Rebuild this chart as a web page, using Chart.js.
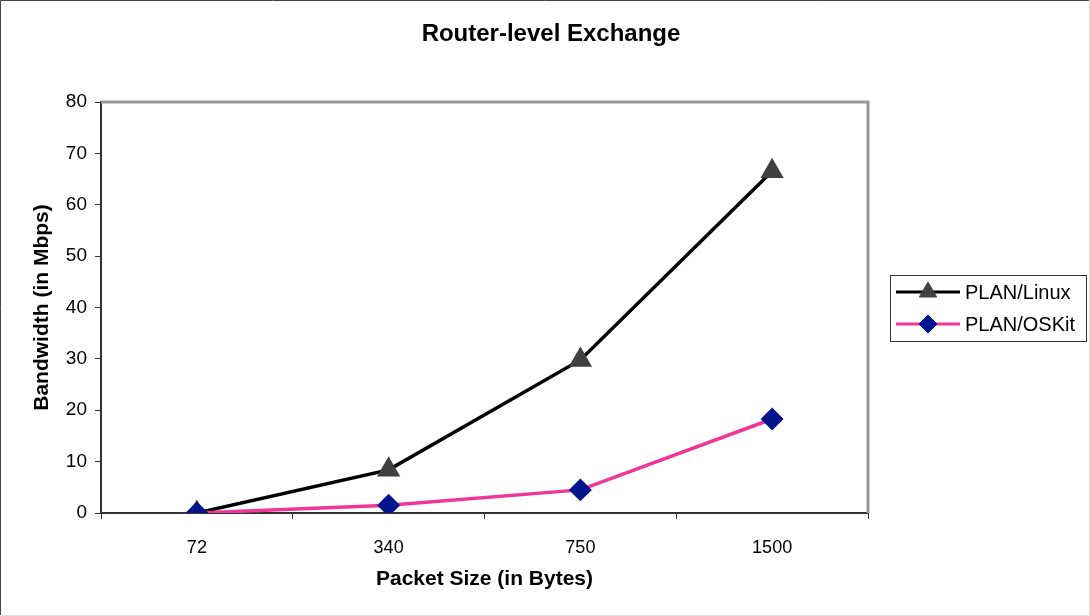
<!DOCTYPE html>
<html>
<head>
<meta charset="utf-8">
<script src="https://cdn.jsdelivr.net/npm/chart.js@4/dist/chart.umd.min.js"></script>
<style>
	html, body { margin: 0; padding: 0; background: #fff; }
	#wrap { width: 1090px; height: 616px; position: relative; }
</style>
</head>
<body>
<div id="wrap"><canvas id="myChart"></canvas></div>
<script>
// 차트 데이터
const packetSizes = ["72", "340", "750", "1500"];
const linuxBandwidth = [0, 8.4, 29.8, 66.5];
const oskitBandwidth = [0, 1.5, 4.5, 18.3];
const yTicks = [0, 10, 20, 30, 40, 50, 60, 70, 80];

const FONT = "'Liberation Sans', Arial, sans-serif";

// 바깥 테두리, 플롯 테두리, 범례 박스
const framePlugin = {
	id: 'framePlugin',
	afterDraw(chart) {
		const ctx = chart.ctx;
		const a = chart.chartArea;
		ctx.save();
		// 오른쪽/위쪽 회색 테두리
		ctx.strokeStyle = '#9a9a9a';
		ctx.lineWidth = 3;
		ctx.beginPath();
		ctx.moveTo(a.left, a.top);
		ctx.lineTo(a.right, a.top);
		ctx.lineTo(a.right, a.bottom);
		ctx.stroke();
		// 전체 테두리
		ctx.lineWidth = 1;
		ctx.strokeStyle = '#444';
		ctx.beginPath();
		ctx.moveTo(0.5, 615);
		ctx.lineTo(0.5, 0.5);
		ctx.lineTo(1089, 0.5);
		ctx.stroke();
		ctx.strokeStyle = '#ddd';
		ctx.beginPath();
		ctx.moveTo(1089.5, 0.5);
		ctx.lineTo(1089.5, 615.5);
		ctx.lineTo(0.5, 615.5);
		ctx.stroke();

		// 범례
		const bx = 890, by = 275, bw = 196, bh = 66;
		ctx.fillStyle = '#fff';
		ctx.fillRect(bx, by, bw, bh);
		ctx.strokeStyle = '#333';
		ctx.lineWidth = 1;
		ctx.strokeRect(bx + 0.5, by + 0.5, bw, bh);
		ctx.font = '20px ' + FONT;
		ctx.textBaseline = 'middle';
		chart.data.datasets.forEach((ds, i) => {
			const y = by + 17 + i * 32;
			ctx.strokeStyle = ds.borderColor;
			ctx.lineWidth = 3;
			ctx.beginPath();
			ctx.moveTo(bx + 6, y);
			ctx.lineTo(bx + 70, y);
			ctx.stroke();
			ctx.fillStyle = ds.pointBackgroundColor;
			ctx.strokeStyle = ds.pointBorderColor;
			ctx.lineWidth = 1;
			Chart.helpers.drawPoint(ctx, {
				pointStyle: ds.pointStyle,
				rotation: 0,
				borderWidth: 1,
				radius: ds.pointRadius
			}, bx + 38, y);
			ctx.fillStyle = '#000';
			ctx.fillText(ds.label, bx + 75, y + 1);
		});
		ctx.restore();
	}
};

const ctx = document.getElementById('myChart').getContext('2d');
const myChart = new Chart(ctx, {
	type: 'line',
	data: {
		labels: packetSizes,
		datasets: [{
			label: 'PLAN/Linux',
			data: linuxBandwidth,
			order: 1,
			borderColor: '#000000',
			borderWidth: 3.5,
			pointStyle: 'triangle',
			pointRadius: 10,
			pointBackgroundColor: '#404040',
			pointBorderColor: '#404040',
			tension: 0
		}, {
			label: 'PLAN/OSKit',
			data: oskitBandwidth,
			order: 0, // 다이아몬드가 위에 그려지도록
			borderColor: '#f0369a',
			borderWidth: 3.5,
			pointStyle: 'rectRot',
			pointRadius: 9,
			pointBackgroundColor: '#00148c',
			pointBorderColor: '#00148c',
			tension: 0
		}]
	},
	options: {
		responsive: true,
		maintainAspectRatio: false,
		animation: false,
		layout: {
			padding: { top: 10, right: 0, bottom: 0, left: 12 }
		},
		plugins: {
			legend: { display: false },
			tooltip: { enabled: false },
			title: {
				display: true,
				text: 'Router-level Exchange',
				color: '#000',
				font: { family: FONT, size: 24, weight: 'bold', lineHeight: 1.2 },
				padding: { top: 9.6, bottom: 53.6 }
			}
		},
		scales: {
			x: {
				offset: true,
				afterFit(scale) { scale.height = 103; },
				grid: {
					offset: true,
					drawOnChartArea: false,
					drawTicks: true,
					tickLength: 6,
					tickColor: '#333'
				},
				border: { color: '#333', width: 2 },
				ticks: {
					color: '#000',
					padding: 18,
					font: { family: FONT, size: 18 }
				},
				title: {
					display: true,
					text: 'Packet Size (in Bytes)',
					color: '#000',
					font: { family: FONT, size: 21, weight: 'bold', lineHeight: 1.2 },
					padding: { top: 0, bottom: 24.5 }
				}
			},
			y: {
				min: 0,
				max: 80,
				afterFit(scale) { scale.width = 89; },
				afterBuildTicks(scale) {
					scale.ticks = yTicks.map(v => ({ value: v }));
				},
				grid: {
					drawOnChartArea: false,
					drawTicks: true,
					tickLength: 6,
					tickColor: '#333'
				},
				border: { color: '#333', width: 2 },
				ticks: {
					color: '#000',
					padding: 8,
					font: { family: FONT, size: 19 }
				},
				title: {
					display: true,
					text: 'Bandwidth (in Mbps)',
					color: '#000',
					font: { family: FONT, size: 21, weight: 'bold', lineHeight: 1.2 },
					padding: { top: 17.4, bottom: 0 }
				}
			},
			// 오른쪽 범례 자리 확보용 빈 축
			yRight: {
				position: 'right',
				afterFit(scale) { scale.width = 222; },
				grid: { display: false },
				border: { display: false },
				ticks: { display: false }
			}
		}
	},
	plugins: [framePlugin]
});
</script>
</body>
</html>
